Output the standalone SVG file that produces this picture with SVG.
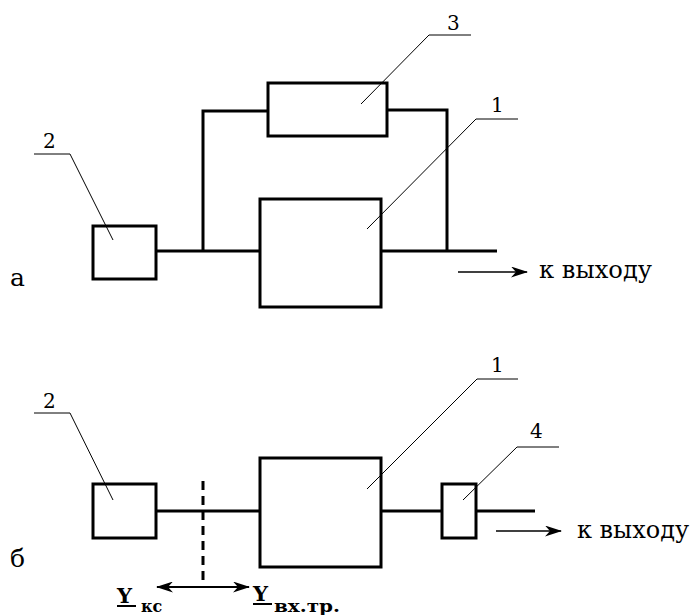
<svg xmlns="http://www.w3.org/2000/svg" width="691" height="615" viewBox="0 0 691 615">
<defs>
<style>
text{font-family:'DejaVu Serif','Liberation Serif',serif;fill:#000}
.box{fill:none;stroke:#000;stroke-width:3}
.wire{fill:none;stroke:#000;stroke-width:3}
.lead{fill:none;stroke:#000;stroke-width:1}
.arr{fill:none;stroke:#000;stroke-width:1.5}
.num{font-size:20px}
.lbl{font-size:25px}
.out{font-size:24px}
.ybig{font-size:21px;font-weight:bold}
.ysub{font-size:16px;font-weight:bold}
</style>
<marker id="ah" viewBox="0 0 17 11" refX="16" refY="5.5" markerWidth="17" markerHeight="11" markerUnits="userSpaceOnUse" orient="auto-start-reverse">
<path d="M0,0 L17,5.5 L0,11 L5,5.5 Z" fill="#000"/>
</marker>
</defs>
<rect width="691" height="615" fill="#fff"/>

<!-- Diagram a -->
<g id="a-node2"><rect class="box" x="93" y="226" width="63" height="53"/></g>
<g id="a-node3"><rect class="box" x="268" y="83" width="119" height="53"/></g>
<g id="a-node1"><rect class="box" x="260" y="199" width="121" height="108"/></g>
<g id="a-connectors">
<polyline class="wire" points="156,251 260,251"/>
<polyline class="wire" points="203,251 203,111 268,111"/>
<polyline class="wire" points="387,110 447,110 447,251"/>
<polyline class="wire" points="381,251 497,251"/>
<line class="arr" x1="458" y1="272" x2="527" y2="272" marker-end="url(#ah)"/>
</g>
<g id="a-labels">
<polyline class="lead" points="34,154 70,154 113,240"/>
<text class="num" x="43" y="148">2</text>
<polyline class="lead" points="471,35 429,35 361,104"/>
<text class="num" x="447" y="30">3</text>
<polyline class="lead" points="518,119 476,119 367,229"/>
<text class="num" x="491" y="112">1</text>
<text class="out" x="539" y="278" textLength="113" lengthAdjust="spacingAndGlyphs">к выходу</text>
<text class="lbl" x="10" y="286">а</text>
</g>

<!-- Diagram b -->
<g id="b-node2"><rect class="box" x="93" y="484" width="63" height="54"/></g>
<g id="b-node1"><rect class="box" x="260" y="458" width="121" height="109"/></g>
<g id="b-node4"><rect class="box" x="442" y="484" width="34" height="54"/></g>
<g id="b-connectors">
<line class="wire" x1="156" y1="511" x2="260" y2="511"/>
<line class="wire" x1="381" y1="511" x2="442" y2="511"/>
<line class="wire" x1="476" y1="511" x2="535" y2="511"/>
<line class="wire" x1="203" y1="481" x2="203" y2="587" stroke-dasharray="9,6"/>
<line class="arr" x1="496" y1="531" x2="561" y2="531" marker-end="url(#ah)"/>
<line x1="157" y1="587" x2="249" y2="587" stroke="#000" stroke-width="2" marker-start="url(#ah)" marker-end="url(#ah)"/>
</g>
<g id="b-labels">
<polyline class="lead" points="34,413 70,413 113,500"/>
<text class="num" x="43" y="408">2</text>
<polyline class="lead" points="518,379 477,379 367,489"/>
<text class="num" x="491" y="372">1</text>
<polyline class="lead" points="559,447 517,447 463,500"/>
<text class="num" x="530" y="438">4</text>
<text class="out" x="577" y="538" textLength="112" lengthAdjust="spacingAndGlyphs">к выходу</text>
<text class="lbl" x="10" y="567">б</text>
<text class="ybig" x="117" y="603">Y</text>
<line x1="117" y1="606" x2="136" y2="606" stroke="#000" stroke-width="2"/>
<text class="ysub" x="141" y="612">кс</text>
<text class="ybig" x="253" y="601">Y</text>
<line x1="253" y1="604" x2="272" y2="604" stroke="#000" stroke-width="2"/>
<text class="ysub" x="274" y="612" textLength="66" lengthAdjust="spacingAndGlyphs">вх.тр.</text>
</g>
</svg>
